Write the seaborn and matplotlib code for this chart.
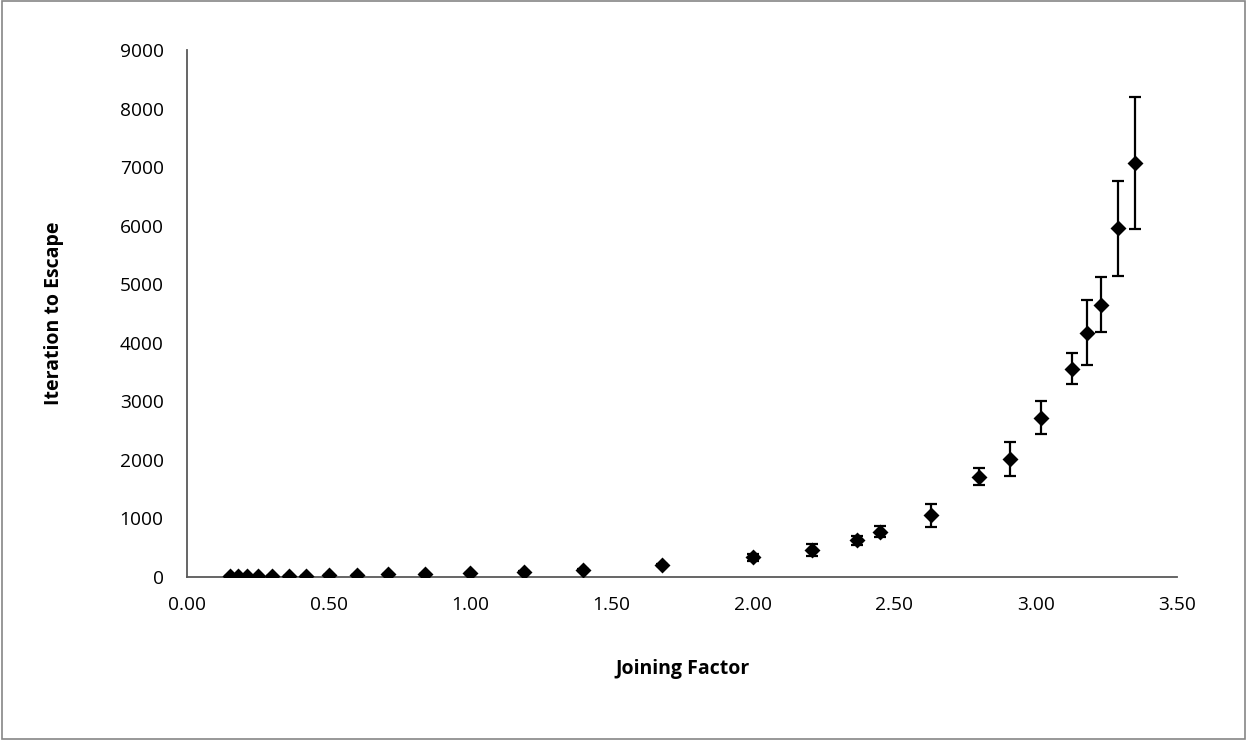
import matplotlib
matplotlib.use("Agg")
import matplotlib.pyplot as plt
from matplotlib.patches import Rectangle
import seaborn as sns
import pandas as pd

# Joining factor values and mean iterations to escape, with +/- error
joining_factor = [0.15, 0.18, 0.21, 0.25, 0.30, 0.36, 0.42, 0.50, 0.60, 0.71,
                  0.84, 1.00, 1.19, 1.40, 1.68, 2.00, 2.21, 2.37, 2.45, 2.63,
                  2.80, 2.91, 3.02, 3.13, 3.18, 3.23, 3.29, 3.35]
iterations = [4, 5, 6, 8, 10, 13, 17, 24, 28, 38,
              46, 57, 86, 118, 200, 332, 460, 623, 770, 1050,
              1709, 2012, 2718, 3555, 4170, 4644, 5955, 7067]
error = [1, 1, 1, 1, 2, 2, 3, 3, 4, 5,
         6, 8, 10, 15, 25, 60, 100, 80, 100, 197,
         150, 293, 278, 260, 550, 470, 810, 1130]

x_ticks = [0.0, 0.5, 1.0, 1.5, 2.0, 2.5, 3.0, 3.5]
y_ticks = [0, 1000, 2000, 3000, 4000, 5000, 6000, 7000, 8000, 9000]

df = pd.DataFrame({"Joining Factor": joining_factor,
                   "Iteration to Escape": iterations,
                   "err": error})

sns.set_style("white")
plt.rcParams["font.family"] = ["Open Sans", "DejaVu Sans"]
plt.rcParams["text.color"] = "black"
plt.rcParams["axes.labelcolor"] = "black"

fig = plt.figure(figsize=(12.47, 7.40), dpi=100)
ax = fig.add_axes([0.1502, 0.2207, 0.9439 - 0.1502, 0.9324 - 0.2207])

axis_color = "#595959"

ax.errorbar(df["Joining Factor"], df["Iteration to Escape"], yerr=df["err"],
            fmt="none", ecolor="black", elinewidth=1.6, capsize=4.2,
            capthick=1.6, zorder=2)
sns.scatterplot(data=df, x="Joining Factor", y="Iteration to Escape",
                marker="D", s=66, color="black", edgecolor="black",
                linewidth=0, ax=ax, zorder=3)

ax.set_xlim(0, 3.5)
ax.set_ylim(0, 9000)
ax.set_xticks(x_ticks)
ax.set_xticklabels([f"{v:.2f}" for v in x_ticks])
ax.set_yticks(y_ticks)
ax.set_yticklabels([str(v) for v in y_ticks])

for side in ["top", "right"]:
    ax.spines[side].set_visible(False)
for side in ["left", "bottom"]:
    ax.spines[side].set_color(axis_color)
    ax.spines[side].set_linewidth(1.3)

ax.tick_params(axis="both", which="major", direction="out", length=5,
               width=1.3, color=axis_color, labelsize=13.8,
               labelcolor="black")
ax.tick_params(axis="y", pad=12)
ax.tick_params(axis="x", pad=9)

ax.set_xlabel("Joining Factor", fontsize=14, fontweight="bold", labelpad=32,
              color="black")
ax.set_ylabel("Iteration to Escape", fontsize=14, fontweight="bold",
              labelpad=40, color="black")

# Thin grey frame around the whole chart area
fig.patches.append(Rectangle((0.0015, 0.002), 0.997, 0.996,
                             transform=fig.transFigure, fill=False,
                             edgecolor="#868686", linewidth=1.2))

fig.savefig("out.png", dpi=100, facecolor="white")
